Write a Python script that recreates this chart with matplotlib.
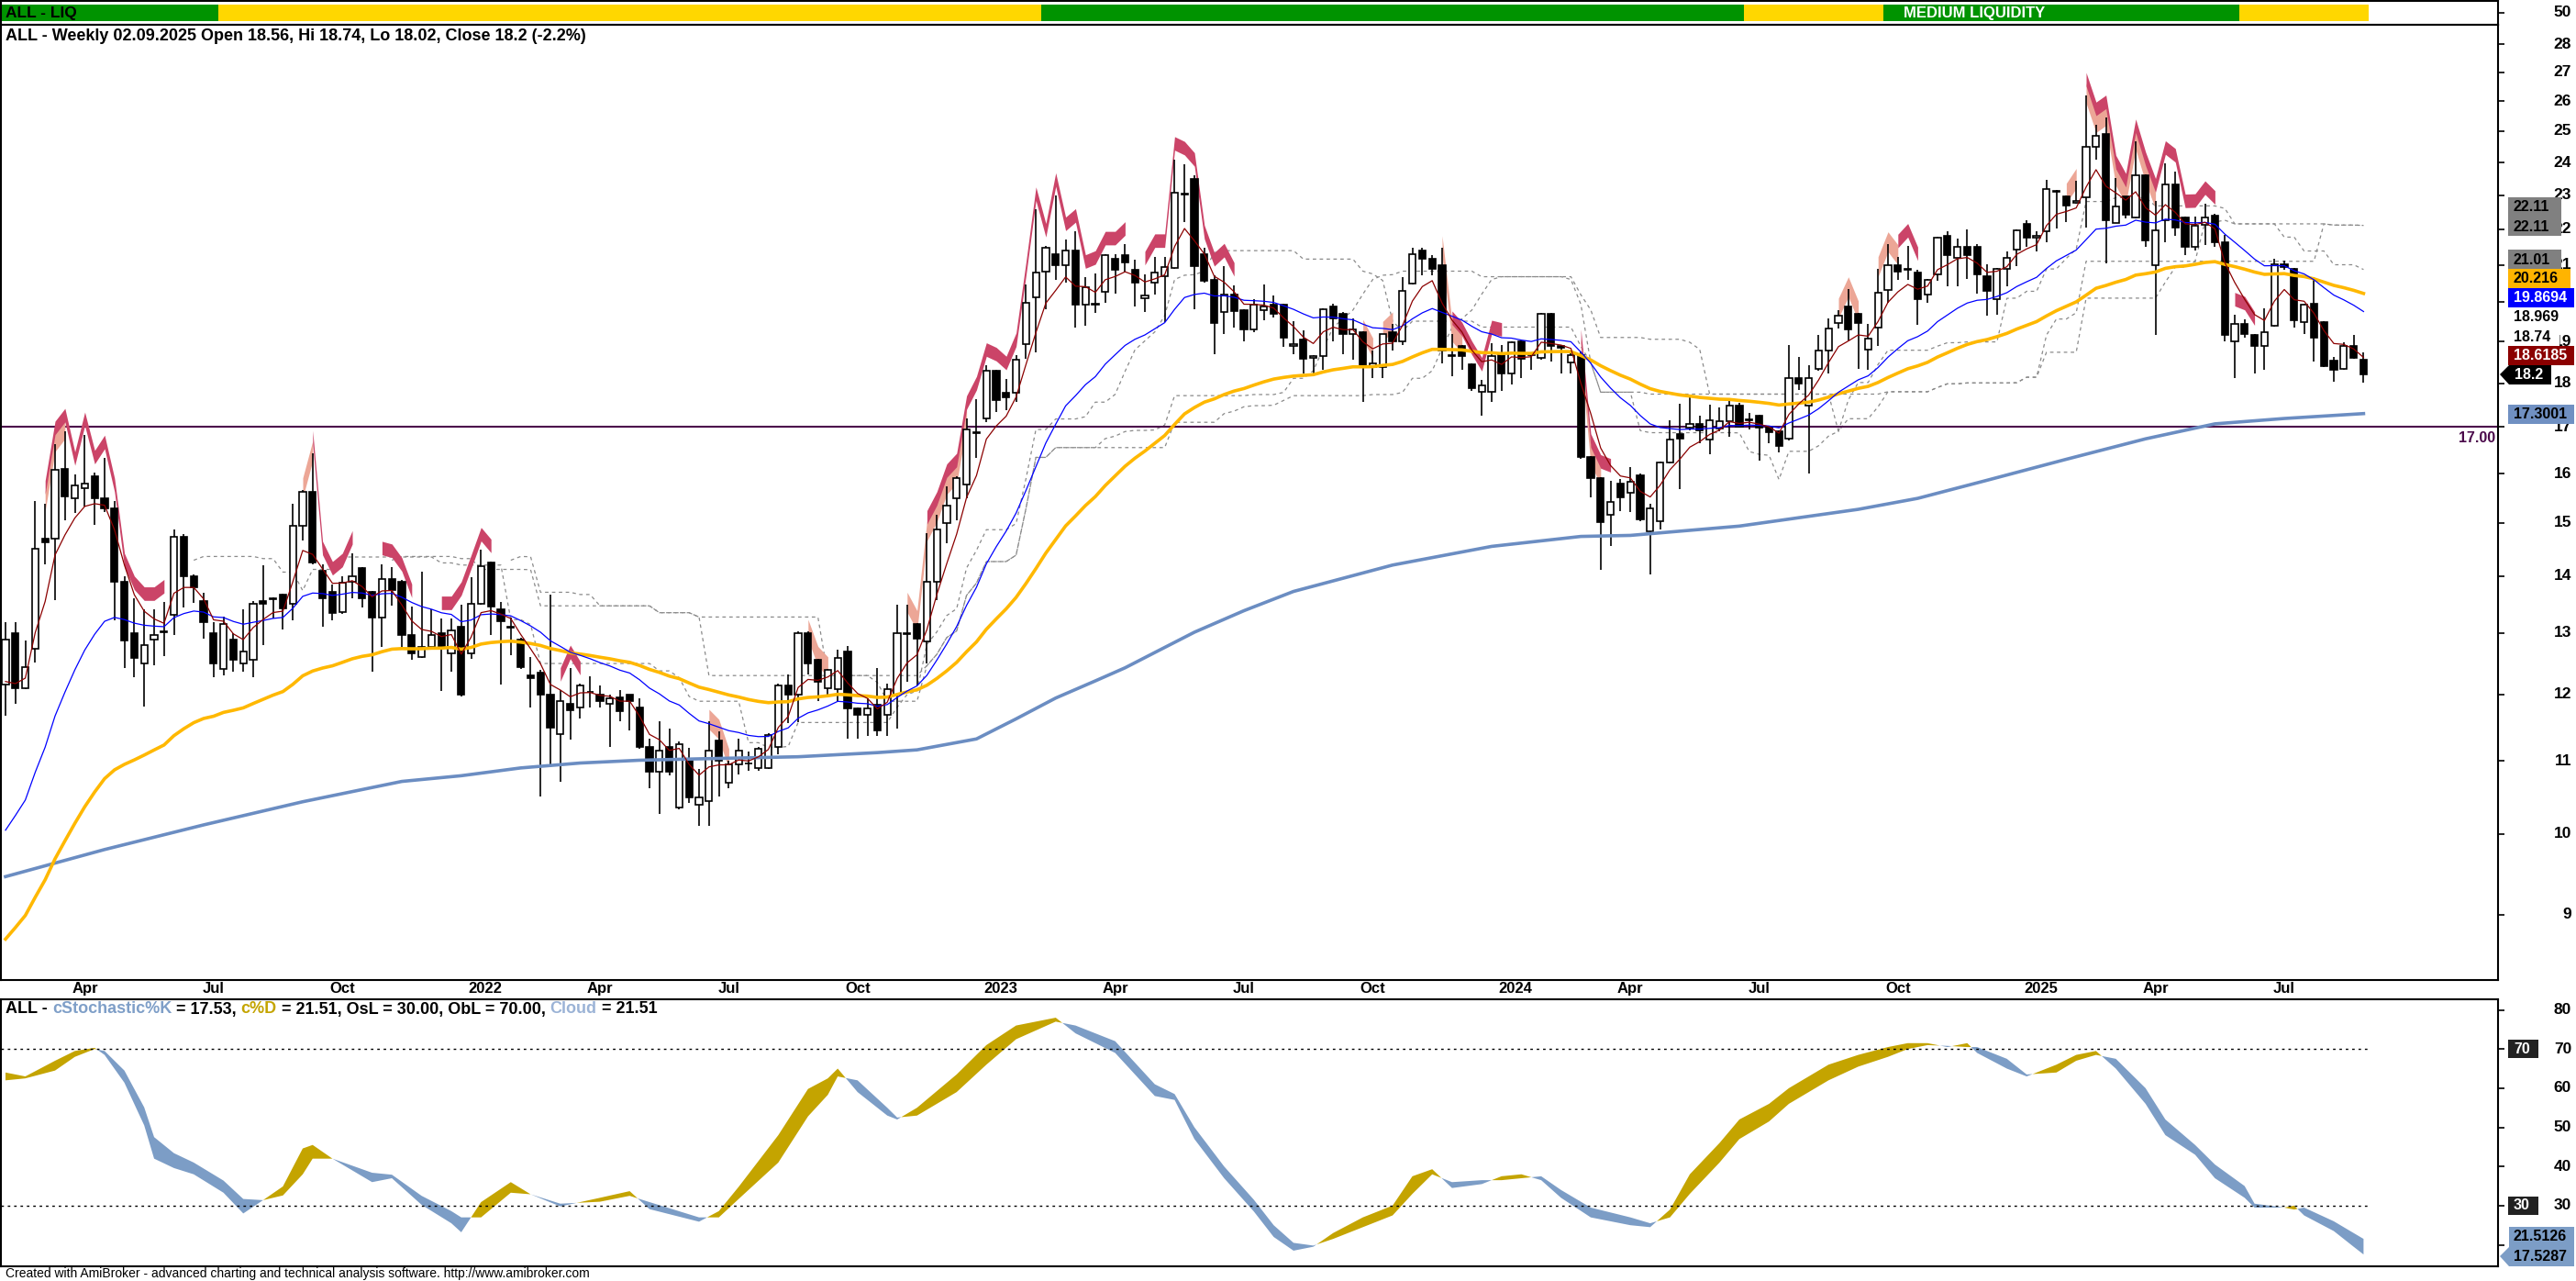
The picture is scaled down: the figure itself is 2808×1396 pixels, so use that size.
import numpy as np
import pandas as pd
import matplotlib
matplotlib.use("Agg")
import matplotlib.pyplot as plt
from matplotlib.patches import Rectangle, Polygon
from matplotlib.ticker import FixedLocator, NullLocator

plt.rcParams['font.family'] = ['Liberation Sans', 'DejaVu Sans']

# ------------------------------------------------------------------ data
first_week = "2021-02-08"

opens = [12.15, 12.99, 12.10, 12.73, 14.69, 14.69, 16.10, 15.49, 15.70, 15.94,
         15.49, 15.29, 13.90, 12.99, 12.49, 12.89, 13.03, 13.31, 14.74, 14.00,
         13.55, 12.99, 12.40, 12.89, 12.49, 12.55, 13.55, 13.58, 13.66, 13.50,
         14.94, 15.63, 14.10, 13.71, 13.35, 13.90, 14.15, 13.71, 13.26, 13.94,
         13.90, 12.96, 12.60, 12.76, 13.00, 12.65, 13.10, 12.65, 13.50, 14.24,
         13.41, 13.10, 12.89, 12.30, 12.34, 11.99, 11.39, 11.85, 11.80, 12.03,
         11.99, 11.85, 11.95, 11.99, 11.79, 11.20, 10.84, 11.20, 10.35, 11.00,
         10.39, 10.44, 11.29, 10.69, 10.95, 10.96, 10.90, 10.90, 11.20, 12.14,
         11.99, 13.00, 12.55, 12.10, 12.08, 12.69, 11.78, 11.68, 11.84, 11.68,
         11.99, 12.98, 13.15, 12.86, 13.90, 15.00, 15.49, 15.77, 16.88, 17.19,
         18.29, 17.78, 17.78, 18.93, 20.12, 20.82, 21.30, 20.99, 21.39, 19.93,
         19.95, 20.28, 21.17, 21.27, 20.86, 20.10, 20.51, 20.69, 20.91, 23.02,
         23.49, 21.30, 20.60, 19.75, 20.21, 19.79, 19.30, 19.79, 19.94, 19.94,
         18.89, 19.05, 18.60, 18.64, 19.89, 19.71, 19.18, 19.23, 18.39, 18.39,
         19.23, 19.00, 20.49, 21.39, 21.18, 20.99, 18.64, 18.90, 18.44, 17.79,
         17.79, 18.72, 18.23, 19.00, 18.72, 18.60, 19.70, 18.89, 18.49, 18.67,
         16.34, 15.90, 15.17, 15.80, 15.61, 15.96, 14.84, 15.03, 16.24, 16.85,
         16.98, 17.07, 16.73, 16.97, 17.13, 17.49, 17.17, 17.25, 16.98, 16.90,
         16.74, 18.11, 17.48, 18.34, 18.78, 19.46, 19.89, 19.70, 18.81, 19.36,
         20.33, 20.99, 20.90, 20.79, 20.21, 20.74, 21.80, 21.19, 21.49, 21.49,
         20.70, 20.09, 20.89, 21.43, 22.15, 21.75, 21.93, 23.14, 22.97, 22.78,
         22.94, 24.49, 24.91, 22.19, 22.95, 22.34, 23.60, 20.99, 22.26, 23.33,
         22.34, 21.49, 22.14, 22.40, 21.64, 19.00, 19.45, 19.16, 18.89, 19.40,
         21.03, 20.89, 19.49, 19.97, 19.49, 18.54, 18.34, 18.89, 18.56]

highs = [13.18, 13.18, 12.87, 15.44, 15.39, 16.63, 16.91, 15.98, 16.83, 16.01,
         16.33, 15.44, 14.00, 13.59, 13.40, 13.40, 13.53, 14.87, 14.78, 14.02,
         13.69, 13.18, 13.28, 12.99, 13.40, 13.55, 14.19, 13.62, 13.68, 15.39,
         15.66, 16.43, 14.22, 13.85, 14.00, 14.42, 14.17, 13.73, 14.22, 14.17,
         13.92, 13.45, 14.08, 13.40, 13.24, 13.24, 13.49, 13.97, 14.48, 14.26,
         13.53, 13.26, 12.91, 12.59, 12.38, 13.67, 12.06, 12.42, 12.16, 12.28,
         12.13, 11.99, 12.07, 12.00, 11.93, 11.33, 11.58, 11.48, 11.28, 11.19,
         10.89, 11.58, 11.43, 11.00, 11.33, 11.14, 11.20, 11.40, 12.16, 12.31,
         13.02, 13.02, 12.57, 12.40, 12.72, 12.78, 11.80, 11.93, 12.42, 12.17,
         13.49, 13.49, 13.17, 14.80, 15.17, 15.73, 15.95, 17.19, 17.63, 18.42,
         18.31, 18.10, 18.66, 20.47, 22.57, 21.52, 22.99, 21.70, 21.94, 20.66,
         20.77, 21.30, 21.30, 21.57, 21.15, 20.75, 21.23, 21.23, 24.10, 23.95,
         23.60, 21.47, 20.72, 20.97, 20.45, 19.81, 20.09, 20.47, 20.19, 19.96,
         19.51, 19.28, 18.66, 19.85, 19.97, 19.75, 19.58, 19.25, 18.79, 19.20,
         19.44, 20.66, 21.47, 21.47, 21.26, 21.47, 19.20, 18.92, 18.46, 18.07,
         18.97, 18.91, 19.01, 19.02, 18.74, 19.73, 19.72, 18.91, 18.79, 18.75,
         16.36, 15.92, 15.84, 15.88, 16.14, 16.00, 15.38, 16.25, 17.16, 17.52,
         17.73, 17.25, 17.50, 17.44, 17.64, 17.54, 17.32, 17.27, 17.00, 16.92,
         18.92, 18.62, 18.43, 19.16, 19.58, 19.79, 20.35, 19.72, 19.44, 20.89,
         21.58, 21.22, 21.52, 20.87, 20.62, 21.78, 21.95, 21.73, 21.99, 21.58,
         21.01, 20.91, 21.37, 22.00, 22.26, 21.94, 23.46, 23.16, 22.99, 23.44,
         26.20, 25.21, 25.44, 23.52, 22.97, 24.66, 23.62, 22.82, 23.97, 23.73,
         22.36, 22.37, 22.75, 22.46, 21.83, 19.67, 19.57, 19.18, 19.85, 21.18,
         21.12, 20.91, 19.97, 20.66, 19.51, 18.62, 18.98, 19.16, 18.74]

lows = [11.67, 11.85, 12.08, 12.51, 14.22, 13.57, 15.05, 15.19, 15.32, 14.96,
        15.21, 13.22, 12.42, 12.27, 11.81, 12.46, 12.61, 12.96, 13.43, 13.52,
        12.90, 12.27, 12.30, 12.36, 12.36, 12.27, 12.79, 13.24, 13.05, 13.22,
        14.66, 14.22, 13.10, 13.22, 13.33, 13.60, 13.43, 12.36, 12.76, 13.47,
        12.76, 12.55, 12.58, 12.72, 12.05, 12.35, 11.97, 12.57, 13.48, 12.96,
        12.15, 12.63, 12.40, 11.80, 10.50, 10.91, 10.70, 11.31, 11.62, 11.80,
        11.80, 11.20, 11.58, 11.44, 11.18, 10.61, 10.26, 10.80, 10.33, 10.41,
        10.11, 10.11, 10.50, 10.61, 10.81, 10.86, 10.86, 10.88, 11.10, 11.56,
        11.57, 12.31, 11.89, 11.99, 11.89, 11.32, 11.32, 11.37, 11.37, 11.37,
        11.47, 12.19, 12.13, 12.49, 13.57, 14.61, 15.05, 15.50, 16.33, 17.11,
        17.34, 17.37, 17.56, 18.58, 18.73, 19.81, 20.60, 20.51, 19.35, 19.41,
        19.72, 19.98, 20.24, 20.82, 19.90, 19.75, 20.21, 19.50, 20.89, 22.21,
        19.81, 20.51, 18.69, 19.19, 19.35, 19.01, 19.24, 19.55, 19.62, 18.87,
        18.69, 18.22, 18.22, 18.31, 19.01, 18.69, 18.56, 17.56, 18.11, 18.13,
        18.78, 18.91, 20.47, 20.72, 20.72, 18.47, 18.16, 18.31, 17.81, 17.26,
        17.56, 17.81, 17.96, 18.11, 18.31, 18.56, 18.51, 18.22, 18.22, 16.30,
        15.51, 14.11, 14.56, 15.24, 15.22, 15.04, 14.02, 14.87, 16.22, 15.68,
        16.92, 16.64, 16.41, 16.90, 16.79, 16.98, 16.95, 16.27, 16.64, 16.44,
        16.70, 17.83, 16.00, 18.29, 18.22, 19.32, 19.03, 18.34, 18.32, 18.90,
        19.99, 20.60, 20.60, 19.42, 19.99, 20.57, 20.43, 20.43, 20.61, 20.23,
        19.65, 19.69, 20.42, 20.97, 21.51, 21.37, 21.63, 22.01, 22.22, 22.74,
        22.06, 24.10, 21.05, 22.17, 22.31, 22.32, 21.51, 19.16, 21.63, 21.81,
        21.26, 21.40, 21.55, 21.51, 19.01, 18.11, 19.11, 18.22, 18.31, 19.38,
        20.87, 19.36, 19.19, 18.51, 18.38, 18.04, 18.32, 18.58, 18.02]

closes = [12.89, 12.10, 12.43, 14.50, 14.62, 16.08, 15.53, 15.76, 15.79, 15.49,
          15.29, 13.90, 12.87, 12.58, 12.79, 12.97, 13.01, 14.74, 14.00, 13.79,
          13.18, 12.49, 13.15, 12.55, 12.69, 13.50, 13.50, 13.59, 13.42, 14.94,
          15.63, 14.25, 13.59, 13.34, 13.88, 14.00, 13.59, 13.26, 13.94, 13.75,
          12.97, 12.65, 12.76, 12.96, 12.76, 13.04, 11.99, 13.50, 14.18, 13.45,
          13.20, 13.09, 12.43, 12.25, 11.99, 11.49, 11.89, 11.75, 12.14, 12.04,
          11.89, 11.94, 11.74, 11.89, 11.20, 10.84, 11.15, 10.84, 11.24, 10.49,
          10.49, 11.15, 11.00, 10.95, 11.15, 10.97, 11.18, 11.38, 12.14, 11.99,
          13.00, 12.49, 12.19, 12.38, 12.58, 11.78, 11.68, 11.78, 11.45, 12.08,
          13.00, 13.00, 12.90, 13.90, 14.88, 15.35, 15.90, 16.95, 16.86, 18.29,
          17.60, 17.68, 18.55, 19.98, 20.79, 21.48, 20.99, 21.39, 19.93, 20.39,
          19.96, 21.27, 20.86, 21.07, 20.51, 20.19, 20.79, 20.95, 23.07, 23.04,
          20.97, 20.57, 19.47, 20.21, 19.77, 19.30, 19.94, 19.89, 19.70, 19.09,
          18.94, 18.58, 18.64, 19.83, 19.59, 19.18, 19.30, 18.39, 18.48, 19.18,
          19.00, 20.29, 21.29, 21.18, 20.89, 18.79, 18.67, 18.64, 17.89, 17.95,
          18.64, 18.23, 18.99, 18.58, 18.67, 19.70, 18.89, 18.84, 18.67, 16.34,
          15.90, 15.02, 15.42, 15.51, 15.83, 15.08, 15.29, 16.23, 16.73, 16.75,
          17.07, 16.92, 17.15, 17.13, 17.49, 17.00, 17.16, 16.98, 16.88, 16.59,
          18.11, 18.00, 18.13, 18.78, 19.32, 19.65, 19.30, 19.47, 19.07, 20.25,
          20.99, 20.82, 20.87, 20.09, 20.60, 21.75, 21.28, 21.49, 21.28, 20.74,
          20.29, 20.89, 21.20, 21.97, 21.75, 21.80, 23.19, 23.09, 22.68, 22.83,
          24.49, 24.84, 22.26, 22.66, 22.42, 23.60, 21.68, 21.97, 23.33, 22.04,
          21.49, 22.09, 22.33, 21.64, 19.16, 19.45, 19.19, 18.89, 19.23, 21.03,
          20.95, 19.53, 19.95, 19.09, 18.40, 18.31, 18.89, 18.60, 18.20]

# moving-average start values read at the first bar
ema5_start = 12.2
ema20_start = 10.05
ema50_start = 8.72
midline_periods = [20, 40, 52]
level_line = 17.00

# long moving average (thick steel-blue line): (bar, value)
long_ma_idx = [0, 10, 20, 30, 40, 46, 52, 58, 64, 70, 80, 88, 92, 98, 102, 106, 110, 113, 116,
               120, 125, 130, 140, 150, 159, 164, 175, 187, 193, 200, 208, 216, 223, 230, 238]
long_ma_val = [9.46, 9.80, 10.12, 10.43, 10.71, 10.79, 10.90, 10.97, 11.01, 11.03, 11.06, 11.12,
               11.16, 11.32, 11.62, 11.94, 12.21, 12.42, 12.67, 13.01, 13.38, 13.72, 14.20, 14.55,
               14.74, 14.76, 14.94, 15.27, 15.49, 15.86, 16.30, 16.74, 17.07, 17.19, 17.30]

price_ticks = [9, 10, 11, 12, 13, 14, 15, 16, 17, 18, 19, 20, 21, 22, 23, 24, 25, 26, 27, 28]
stoch_ticks = [20, 30, 40, 50, 60, 70, 80]

# stochastic %K / %D (bar index, value)
stoch_idx = [0, 2, 5, 7, 9, 10, 12, 14, 15, 17, 19, 22, 24, 26, 28, 30, 31, 33, 37, 39,
             42, 45, 46, 48, 51, 53, 56, 60, 63, 65, 70, 72, 74, 78, 81, 83, 84, 86, 89, 90,
             92, 96, 99, 102, 106, 108, 112, 116, 118, 120, 123, 126, 128, 130, 132, 134, 137, 140, 142, 144,
             146, 149, 151, 153, 155, 157, 160, 164, 166, 168, 170, 173, 175, 178, 180, 182, 184, 187, 190, 192,
             194, 196, 198, 199, 202, 204, 207, 209, 211, 213, 216, 218, 221, 223, 226, 227, 230, 231, 232, 235,
             237, 238]
stoch_k = [64, 63, 67, 69.5, 70.3, 68.5, 61.4, 50.5, 42, 39.6, 38, 33.3, 28, 31.4, 34.9, 44.6, 45.5, 42, 36, 37,
           30.2, 25.5, 23.2, 30.9, 36, 32.9, 29.8, 32, 33.7, 29.1, 25.9, 28.6, 34.8, 48, 59.8, 62.5, 65, 59, 53, 52,
           55, 63.5, 71, 76, 78, 74, 69, 58, 57, 47, 37, 28.5, 22, 18.5, 19.5, 23, 27, 30, 37.5, 39.3,
           34.5, 35.5, 37.5, 38, 36.5, 32, 27, 25, 24.5, 29, 38, 46, 52, 56, 60, 63, 66, 68.5, 70.5, 71.5,
           71.5, 70.5, 71.5, 69, 65, 63, 66, 68.5, 69.5, 65, 56, 48, 43, 37, 32, 29.5, 29.5, 30, 27.5, 23.5,
           19.5, 17.53]
stoch_d = [62, 62.5, 64.5, 68, 70, 69.5, 64.5, 55.1, 47.5, 43.4, 41, 36.4, 31.7, 31.4, 32.6, 38, 42, 42, 38.4, 37.9,
           32.5, 28.6, 27, 27, 33.3, 32.9, 30.5, 31, 32.5, 30.9, 27, 27, 31.7, 41, 52.8, 58.3, 63, 62, 55, 52.5,
           53, 59, 66, 72.5, 77, 76, 72, 61, 58.5, 50, 40, 31.5, 25, 20.5, 19.8, 21.5, 24.5, 27.5, 33, 38,
           36, 36.5, 36.5, 37, 37.5, 34, 29.5, 27, 25.5, 27, 33, 41, 47, 51.5, 56, 59, 62, 65.5, 68, 70,
           71, 70.8, 70.5, 70.5, 67.5, 63.5, 64, 67, 68.5, 67.5, 60, 52, 45.5, 40.5, 35, 30.5, 29.5, 29, 29.5, 26,
           23, 21.51]
stoch_os, stoch_ob = 30, 70

# liquidity ribbon: first bar of each segment and its level
liq_start = [0, 22, 105, 176, 190, 226]
liq_level = ['medium', 'low', 'medium', 'low', 'medium', 'low']

# bars where the high-band is painted (inclusive ranges)
red_ranges = [(4, 16), (31, 35), (38, 41), (44, 49), (56, 58), (93, 113), (115, 124), (146, 151),
              (159, 162), (191, 193), (210, 223), (225, 227)]
salmon_ranges = [(4, 6), (30, 31), (71, 73), (81, 83), (91, 97), (137, 138), (139, 140), (145, 147),
                 (159, 161), (185, 187), (189, 191), (208, 209), (210, 217)]

header_text = "ALL - Weekly 02.09.2025 Open 18.56, Hi 18.74, Lo 18.02, Close 18.2 (-2.2%)"
footer_text = "Created with AmiBroker - advanced charting and technical analysis software. http://www.amibroker.com"

# ------------------------------------------------------------------ helpers
O = np.array(opens); Hh = np.array(highs); L = np.array(lows); C = np.array(closes)
n = len(C)
assert len(O) == len(Hh) == len(L) == n
idx = np.arange(n)

def ema(values, period, start):
    a = 2.0 / (period + 1)
    out = np.empty(len(values))
    e = start
    for i, v in enumerate(values):
        if i > 0:
            e = e + a * (v - e)
        out[i] = e
    return out

W, HP = 2808, 1396
fig = plt.figure(figsize=(W / 100, HP / 100), dpi=100)

def rect(x0, y0, x1, y1):
    return [x0 / W, 1 - y1 / HP, (x1 - x0) / W, (y1 - y0) / HP]

PLOT_R = 2723
X0, DX = 6.0, 10.8
xl = ((1 - X0) / DX, (PLOT_R - X0) / DX)

ax_liq = fig.add_axes(rect(1, 1, PLOT_R, 27))
ax = fig.add_axes(rect(1, 27, PLOT_R, 1068))
ax_st = fig.add_axes(rect(1, 1089, PLOT_R, 1380))
for a in (ax_liq, ax, ax_st):
    a.set_xlim(*xl)
    a.set_xticks([])
    for s in a.spines.values():
        s.set_linewidth(1.5)
        s.set_color('black')

def ftext(x, y, s, **kw):
    return fig.text(x / W, 1 - y / HP, s, **kw)

def fbox(x0, y0, x1, y1, color):
    fig.add_artist(Rectangle((x0 / W, 1 - y1 / HP), (x1 - x0) / W, (y1 - y0) / HP,
                             transform=fig.transFigure, facecolor=color, edgecolor='none', zorder=5))

def fpoly(pts, color):
    fig.add_artist(Polygon([(x / W, 1 - y / HP) for x, y in pts], closed=True,
                           transform=fig.transFigure, facecolor=color, edgecolor='none', zorder=5))

# ------------------------------------------------------------------ liquidity ribbon
liq_colors = {'medium': '#009300', 'low': '#FFD700'}
ax_liq.set_ylim(0, 1)
bounds = liq_start + [n]
for k in range(len(liq_start)):
    s, e = bounds[k], bounds[k + 1] - 1
    ax_liq.fill_between([s - 0.5, e + 0.5], 0.16, 0.84, color=liq_colors[liq_level[k]], lw=0)
ax_liq.set_yticks([0.5])
ax_liq.tick_params(axis='y', left=False, right=True, labelleft=False, labelright=False,
                   direction='out', length=5, width=1.2)
ftext(6, 14, "ALL - LIQ", fontsize=12.5, fontweight='bold', va='center', ha='left')
ftext(2152, 14, "MEDIUM LIQUIDITY", fontsize=12, fontweight='bold', color='white', va='center', ha='center')
ftext(2803, 14, "50", fontsize=12.5, fontweight='bold', va='center', ha='right')

# ------------------------------------------------------------------ price pane
ax.set_yscale('log')
ax.set_ylim(8.267, 28.72)
ax.yaxis.set_major_locator(FixedLocator(price_ticks))
ax.yaxis.set_minor_locator(NullLocator())
ax.tick_params(axis='y', which='both', left=False, right=True, labelleft=False, labelright=False,
               direction='out', length=5, width=1.2)
ytr = ax.get_yaxis_transform()
for t in price_ticks:
    ax.text(1 + 80 / 2722, t, str(t), transform=ytr, ha='right', va='center',
            fontsize=12.5, fontweight='bold', clip_on=False)

# mid-range (highest high + lowest low)/2 dashed lines
hs, ls = pd.Series(Hh), pd.Series(L)
for p in midline_periods:
    mid = (hs.rolling(p).max() + ls.rolling(p).min()) / 2
    ax.plot(idx, mid, color='#8a8a8a', lw=0.9, ls=(0, (3, 3)), zorder=2)

ax.axhline(level_line, color='#4B0A4B', lw=1.5, zorder=2)

# high band
for s, e in salmon_ranges:
    sl = slice(s, e + 1)
    ax.fill_between(idx[sl], Hh[sl] * 0.99, Hh[sl] * 1.016, color='#ECA696', lw=0, zorder=2.4)
for s, e in red_ranges:
    sl = slice(s, e + 1)
    ax.fill_between(idx[sl], Hh[sl] * 1.012, Hh[sl] * 1.03, color='#CB4468', lw=0, zorder=2.5)

# candles
up = C >= O
lo = np.minimum(O, C)
hi = np.maximum(O, C)
ax.vlines(idx, L, Hh, color='black', lw=1.2, zorder=3)
ax.bar(idx[up], (hi - lo)[up], bottom=lo[up], width=0.68, facecolor='white',
       edgecolor='black', lw=1.2, zorder=4)
ax.bar(idx[~up], (hi - lo)[~up], bottom=lo[~up], width=0.68, facecolor='black',
       edgecolor='black', lw=1.2, zorder=4)

# moving averages
ax.plot(long_ma_idx, long_ma_val, color='#6B8DC2', lw=2.6, zorder=5)
ax.plot(idx, ema(C, 50, ema50_start), color='#FFB800', lw=2.6, zorder=5)
ax.plot(idx, ema(C, 20, ema20_start), color='#0000FF', lw=0.9, zorder=5)
ax.plot(idx, ema(C, 5, ema5_start), color='#8B0000', lw=0.9, zorder=5)

# date labels
dates = pd.date_range(first_week, periods=n, freq='7D')
xtr = ax.get_xaxis_transform()
for i in range(1, n):
    d = dates[i]
    if d.month in (1, 4, 7, 10) and dates[i - 1].month != d.month:
        if d.month == 1:
            ax.text(i - 0.3, -0.0096, str(d.year), transform=xtr, ha='left', va='center',
                    fontsize=12, fontweight='bold', clip_on=False)
        else:
            ax.text(i, -0.0096, d.strftime('%b'), transform=xtr, ha='center', va='center',
                    fontsize=12, fontweight='bold', clip_on=False)

ftext(6, 40, header_text, fontsize=13, fontweight='bold', va='center', ha='left')
ftext(2720, 477, "17.00", fontsize=11.5, fontweight='bold', color='#4B0A4B', va='center', ha='right')

# right-hand value labels
fbox(2734, 215, 2792, 257, '#808080')
ftext(2740, 226, "22.11", fontsize=11.5, fontweight='bold', va='center', ha='left', zorder=6)
ftext(2740, 247, "22.11", fontsize=11.5, fontweight='bold', va='center', ha='left', zorder=6)
fbox(2734, 272, 2792, 293, '#808080')
ftext(2740, 283, "21.01", fontsize=11.5, fontweight='bold', va='center', ha='left', zorder=6)
fbox(2734, 293, 2802, 314, '#FFB400')
ftext(2740, 303.5, "20.216", fontsize=11.5, fontweight='bold', va='center', ha='left', zorder=6)
fbox(2734, 314, 2806, 335, '#0000FF')
ftext(2740, 324.5, "19.8694", fontsize=11.5, fontweight='bold', color='white', va='center', ha='left', zorder=6)
ftext(2740, 346, "18.969", fontsize=11.5, fontweight='bold', va='center', ha='left', zorder=6)
fbox(2734, 357, 2790, 377, 'white')
ftext(2740, 367, "18.74", fontsize=11.5, fontweight='bold', va='center', ha='left', zorder=6)
fbox(2734, 377, 2806, 398, '#8B0000')
ftext(2740, 387.5, "18.6185", fontsize=11.5, fontweight='bold', color='white', va='center', ha='left', zorder=6)
fpoly([(2725, 408), (2735, 398), (2781, 398), (2781, 419), (2735, 419)], 'black')
ftext(2741, 408.5, "18.2", fontsize=11.5, fontweight='bold', color='white', va='center', ha='left', zorder=6)
fbox(2734, 441, 2806, 462, '#7090C2')
ftext(2740, 451.5, "17.3001", fontsize=11.5, fontweight='bold', va='center', ha='left', zorder=6)

# ------------------------------------------------------------------ stochastic pane
ax_st.set_ylim(14.5, 82.7)
ax_st.yaxis.set_major_locator(FixedLocator(stoch_ticks))
ax_st.tick_params(axis='y', left=False, right=True, labelleft=False, labelright=False,
                  direction='out', length=5, width=1.2)
ytr2 = ax_st.get_yaxis_transform()
for t in stoch_ticks:
    ax_st.text(1 + 80 / 2722, t, str(t), transform=ytr2, ha='right', va='center',
               fontsize=12.5, fontweight='bold', clip_on=False)

si = np.array(stoch_idx, dtype=float)
sk = np.array(stoch_k)
sd = np.array(stoch_d)
ax_st.fill_between(si, sk, sd, where=sk >= sd, interpolate=True, color='#C4A400', lw=0)
ax_st.fill_between(si, sk, sd, where=sk < sd, interpolate=True, color='#7C9DC6', lw=0)
ax_st.hlines([stoch_os, stoch_ob], xl[0], n - 0.5, colors='black', linestyles=(0, (2, 3)), lw=1)

fbox(2734, 1133, 2767, 1153, '#222222')
ftext(2740, 1143, "70", fontsize=11.5, fontweight='bold', color='white', va='center', ha='left', zorder=6)
fbox(2734, 1304, 2767, 1324, '#222222')
ftext(2740, 1314, "30", fontsize=11.5, fontweight='bold', color='white', va='center', ha='left', zorder=6)
fpoly([(2725, 1369), (2735, 1359), (2735, 1337), (2806, 1337), (2806, 1380), (2735, 1380)], '#7C9DC6')
ftext(2740, 1348, "21.5126", fontsize=11.5, fontweight='bold', va='center', ha='left', zorder=6)
ftext(2740, 1369, "17.5287", fontsize=11.5, fontweight='bold', va='center', ha='left', zorder=6)

# multi-coloured stochastic title
renderer = fig.canvas.get_renderer()
parts = [("ALL - ", 'black'), ("cStochastic%K", '#7F9FC8'), (" = 17.53, ", 'black'),
         ("c%D", '#C4A400'), (" = 21.51, OsL = 30.00, ObL = 70.00, ", 'black'),
         ("Cloud", '#9BB3D6'), (" = 21.51", 'black')]
xp = 6
for s, c in parts:
    t = ftext(xp, 1100, s, fontsize=13, fontweight='bold', color=c, va='center', ha='left')
    xp += t.get_window_extent(renderer=renderer).width

ftext(6, 1388, footer_text, fontsize=10, va='center', ha='left')

fig.savefig("out.png", dpi=100)
